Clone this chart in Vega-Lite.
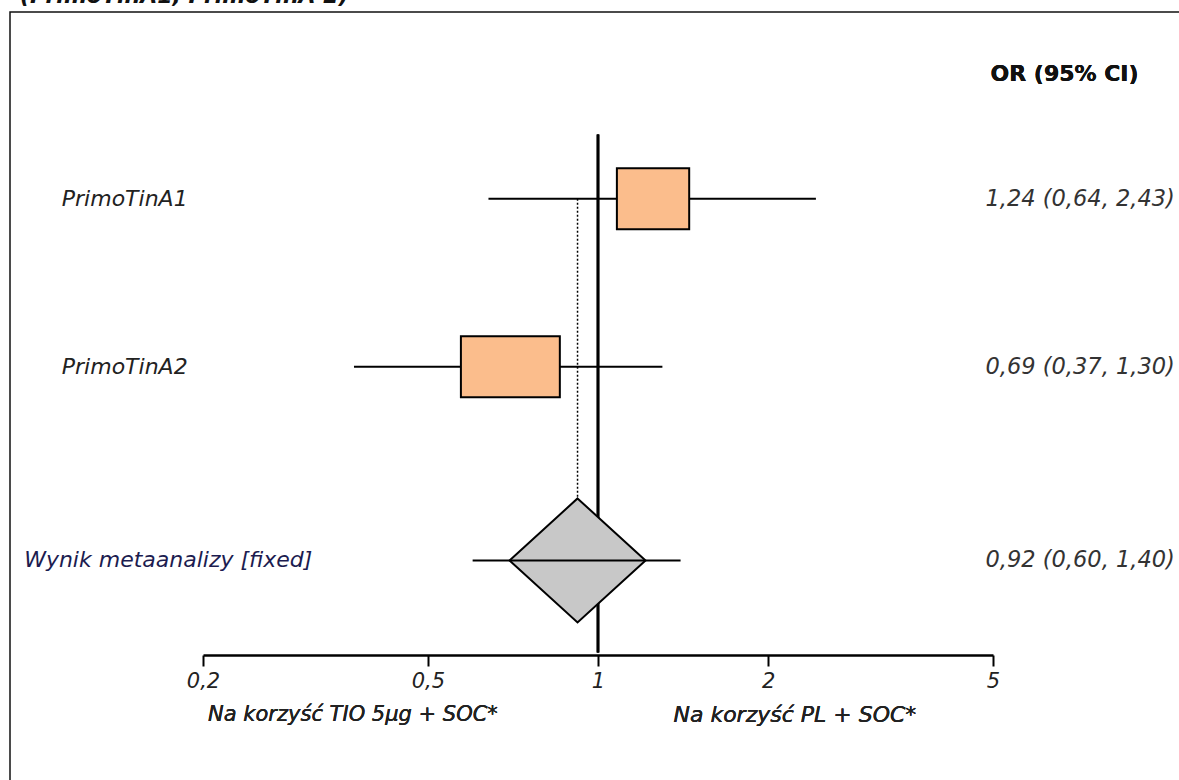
{
  "$schema": "https://vega.github.io/schema/vega-lite/v6.json",
  "autosize": {"type": "none"},
  "padding": {"left": 10, "top": 12, "right": 0, "bottom": 0},
  "width": 1300,
  "height": 850,
  "background": "white",
  "config": {
    "view": {"stroke": "#111", "strokeWidth": 1.5},
    "font": "DejaVu Sans",
    "text": {"font": "DejaVu Sans", "fontSize": 22, "fontStyle": "italic", "color": "#222", "align": "left", "baseline": "middle"}
  },
  "title": {
    "text": "(PrimoTinA1, PrimoTinA 2)",
    "anchor": "start",
    "font": "DejaVu Sans",
    "fontSize": 22,
    "fontWeight": "bold",
    "fontStyle": "italic",
    "color": "#111",
    "dx": 10,
    "dy": 13,
    "offset": 0,
    "baseline": "alphabetic"
  },
  "data": {
    "values": [
      {"kind": "study", "study": "PrimoTinA1", "or": 1.24, "lo": 0.64, "hi": 2.43, "box_lo": 1.08, "box_hi": 1.45, "row": 1.082, "label": "1,24 (0,64, 2,43)"},
      {"kind": "study", "study": "PrimoTinA2", "or": 0.69, "lo": 0.37, "hi": 1.30, "box_lo": 0.572, "box_hi": 0.856, "row": 2.082, "label": "0,69 (0,37, 1,30)"},
      {"kind": "meta", "study": "Wynik metaanalizy [fixed]", "or": 0.92, "lo": 0.60, "hi": 1.40, "box_lo": 0.92, "box_hi": 0.92, "row": 3.235, "label": "0,92 (0,60, 1,40)"}
    ]
  },
  "encoding": {
    "y": {"field": "row", "type": "quantitative", "scale": {"domain": [0, 5], "reverse": true, "nice": false, "zero": false}, "axis": null}
  },
  "layer": [
    {
      "mark": {"type": "rule", "color": "#000", "strokeWidth": 2.5},
      "encoding": {
        "x": {"datum": 1, "type": "quantitative"},
        "y": {"datum": 0.7, "type": "quantitative"},
        "y2": {"datum": 3.782}
      }
    },
    {
      "transform": [{"filter": "datum.kind == 'meta'"}],
      "mark": {"type": "rule", "color": "#000", "strokeWidth": 1.5, "strokeDash": [2, 2]},
      "encoding": {
        "x": {"field": "or", "type": "quantitative"},
        "y": {"datum": 1.082, "type": "quantitative"},
        "y2": {"datum": 2.871}
      }
    },
    {
      "transform": [{"filter": "datum.kind == 'study'"}],
      "mark": {"type": "rule", "color": "#000", "strokeWidth": 2},
      "encoding": {
        "x": {
          "field": "lo", "type": "quantitative", "title": null,
          "scale": {"type": "log", "domain": [0.2, 5], "range": [193, 983], "nice": false, "zero": false},
          "axis": {
            "values": [0.2, 0.5, 1, 2, 5],
            "format": "~g",
            "labelExpr": "replace(datum.label, '.', ',')",
            "orient": "bottom",
            "offset": -207,
            "grid": false,
            "domainColor": "#000",
            "domainWidth": 2.5,
            "tickColor": "#000",
            "tickWidth": 2,
            "tickSize": 11,
            "labelFont": "DejaVu Sans",
            "labelFontStyle": "italic",
            "labelFontSize": 21,
            "labelColor": "#222",
            "labelPadding": 4,
            "labelFlush": false,
            "labelOverlap": false
          }
        },
        "x2": {"field": "hi"}
      }
    },
    {
      "transform": [{"filter": "datum.kind == 'study'"}],
      "mark": {"type": "bar", "size": 61, "fill": "#fbbd8c", "stroke": "#000", "strokeWidth": 2},
      "encoding": {
        "x": {"field": "box_lo", "type": "quantitative"},
        "x2": {"field": "box_hi"}
      }
    },
    {
      "transform": [{"filter": "datum.kind == 'meta'"}],
      "mark": {"type": "point", "shape": "M0,-0.912L1,0L0,0.912L-1,0Z", "size": 18496, "filled": true, "fill": "#c8c8c8", "stroke": "#000", "strokeWidth": 2, "opacity": 1},
      "encoding": {
        "x": {"field": "or", "type": "quantitative"}
      }
    },
    {
      "transform": [{"filter": "datum.kind == 'meta'"}],
      "mark": {"type": "rule", "color": "#000", "strokeWidth": 2},
      "encoding": {
        "x": {"field": "lo", "type": "quantitative"},
        "x2": {"field": "hi"}
      }
    },
    {
      "transform": [{"filter": "datum.kind == 'study'"}],
      "mark": {"type": "text"},
      "encoding": {
        "x": {"datum": 0.1125, "type": "quantitative"},
        "text": {"field": "study"}
      }
    },
    {
      "transform": [{"filter": "datum.kind == 'meta'"}],
      "mark": {"type": "text", "color": "#1c1c50"},
      "encoding": {
        "x": {"datum": 0.0965, "type": "quantitative"},
        "text": {"field": "study"}
      }
    },
    {
      "mark": {"type": "text", "color": "#333", "fontSize": 22.5},
      "encoding": {
        "x": {"datum": 4.85, "type": "quantitative"},
        "text": {"field": "label"}
      }
    },
    {
      "mark": {"type": "text", "text": "OR (95% CI)", "fontStyle": "normal", "fontWeight": "bold", "color": "#111"},
      "encoding": {
        "x": {"datum": 4.95, "type": "quantitative"},
        "y": {"datum": 0.341, "type": "quantitative"}
      }
    },
    {
      "mark": {"type": "text", "text": "Na korzyść TIO 5µg + SOC*", "align": "right", "fontSize": 21},
      "encoding": {
        "x": {"datum": 0.665, "type": "quantitative"},
        "y": {"datum": 4.153, "type": "quantitative"}
      }
    },
    {
      "mark": {"type": "text", "text": "Na korzyść PL + SOC*", "align": "left"},
      "encoding": {
        "x": {"datum": 1.36, "type": "quantitative"},
        "y": {"datum": 4.153, "type": "quantitative"}
      }
    }
  ]
}
